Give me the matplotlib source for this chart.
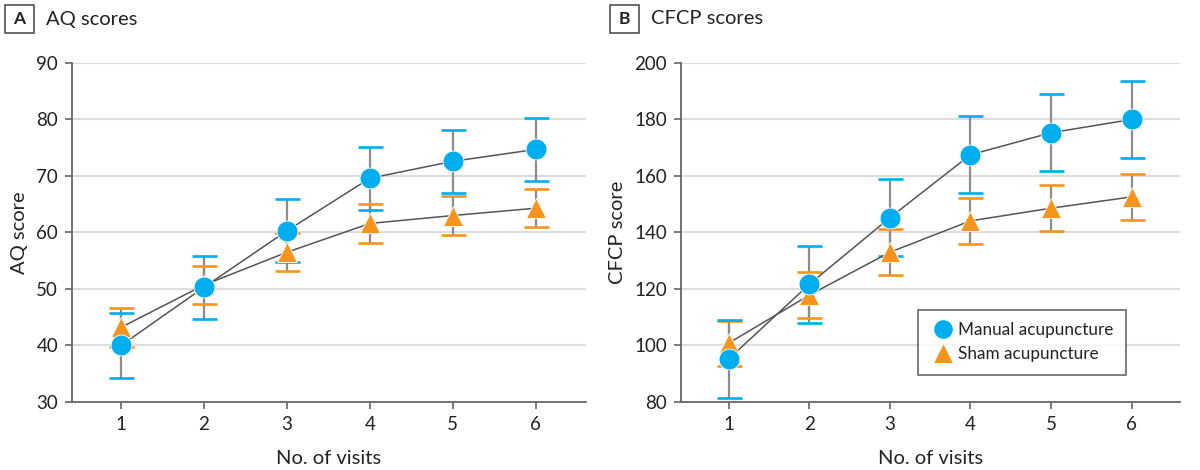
import matplotlib
matplotlib.use("Agg")
import matplotlib.pyplot as plt
from matplotlib.patches import Rectangle
from matplotlib.lines import Line2D

plt.rcParams['font.family'] = ['Lato', 'DejaVu Sans']

visits = [1, 2, 3, 4, 5, 6]

aq_manual = [40.0, 50.3, 60.3, 69.6, 72.6, 74.7]
aq_manual_err = [5.7, 5.6, 5.6, 5.6, 5.6, 5.6]
aq_sham = [43.2, 50.7, 56.5, 61.6, 63.0, 64.3]
aq_sham_err = [3.4, 3.4, 3.4, 3.4, 3.4, 3.4]

cfcp_manual = [95.2, 121.6, 145.2, 167.5, 175.3, 180.0]
cfcp_manual_err = [13.9, 13.7, 13.7, 13.7, 13.7, 13.7]
cfcp_sham = [100.8, 117.8, 133.0, 144.1, 148.6, 152.6]
cfcp_sham_err = [8.0, 8.1, 8.1, 8.2, 8.2, 8.2]

BLUE = '#00AEEF'
ORANGE = '#F7941D'
GRID = '#DDDDDD'
AX = '#666666'

fig = plt.figure(figsize=(12, 4.7), dpi=100)
axA = fig.add_axes([0.06, 0.1447, 0.428, 0.7213])
axB = fig.add_axes([0.5675, 0.1447, 0.4158, 0.7213])


def draw(ax, manual, merr, sham, serr, ylim, yticks, ylabel):
    for vals, err, col in [(sham, serr, ORANGE), (manual, merr, BLUE)]:
        ax.errorbar(visits, vals, yerr=err, fmt='none', ecolor='#8C8C8C',
                    elinewidth=1.6, capsize=0, zorder=2)
        ax.errorbar(visits, vals, yerr=err, fmt='none', ecolor=col,
                    elinewidth=0, capsize=9, capthick=1.9, zorder=3)
    for vals in (sham, manual):
        ax.plot(visits, vals, color='#555555', lw=1.1, zorder=4)
    ax.plot(visits, sham, ls='none', marker='^', ms=15, color=ORANGE,
            mec='white', mew=0.6, zorder=5)
    ax.plot(visits, manual, ls='none', marker='o', ms=15, color=BLUE,
            mec='white', mew=0.6, zorder=6)
    ax.set_xlim(0.41, 6.6)
    ax.set_ylim(*ylim)
    ax.set_xticks(visits)
    ax.set_yticks(yticks)
    ax.grid(axis='y', color=GRID, lw=1.5, zorder=0)
    ax.set_axisbelow(True)
    for s in ('top', 'right'):
        ax.spines[s].set_visible(False)
    for s in ('left', 'bottom'):
        ax.spines[s].set_color(AX)
        ax.spines[s].set_linewidth(1.3)
    ax.tick_params(axis='both', colors=AX, labelcolor='#222222',
                   labelsize=13.5, length=5, width=1.2, pad=5)
    ax.set_xlabel('No. of visits', fontsize=14.5, color='#222222', labelpad=12)
    ax.set_ylabel(ylabel, fontsize=14.5, color='#222222', labelpad=6)


draw(axA, aq_manual, aq_manual_err, aq_sham, aq_sham_err,
     (30, 90), [30, 40, 50, 60, 70, 80, 90], 'AQ score')
draw(axB, cfcp_manual, cfcp_manual_err, cfcp_sham, cfcp_sham_err,
     (80, 200), [80, 100, 120, 140, 160, 180, 200], 'CFCP score')


def panel_label(x0, letter, title):
    fig.patches.append(Rectangle((x0 / 1200, 1 - 33 / 470), 29 / 1200, 28 / 470,
                                 transform=fig.transFigure, fill=False,
                                 edgecolor='#444444', lw=1.1))
    fig.text((x0 + 14.5) / 1200, 1 - 19 / 470, letter, ha='center', va='center',
             fontsize=12.5, fontweight='bold', color='#222222')
    fig.text((x0 + 41) / 1200, 1 - 19 / 470, title, ha='left', va='center',
             fontsize=14.5, color='#222222')


panel_label(5, 'A', 'AQ scores')
panel_label(610, 'B', 'CFCP scores')

handles = [
    Line2D([], [], ls='none', marker='o', ms=14, color=BLUE, mec='white', mew=0.6),
    Line2D([], [], ls='none', marker='^', ms=14, color=ORANGE, mec='white', mew=0.6),
]
leg = axB.legend(handles, ['Manual acupuncture', 'Sham acupuncture'],
                 loc='lower right', bbox_to_anchor=(0.892, 0.08), fontsize=12.3,
                 frameon=True, fancybox=False, edgecolor='#333333',
                 handletextpad=0.2, borderpad=0.75, labelspacing=0.45,
                 handlelength=1.4, borderaxespad=0)
leg.get_frame().set_linewidth(1.1)
for t in leg.get_texts():
    t.set_color('#222222')

fig.savefig('out.png', dpi=100)
